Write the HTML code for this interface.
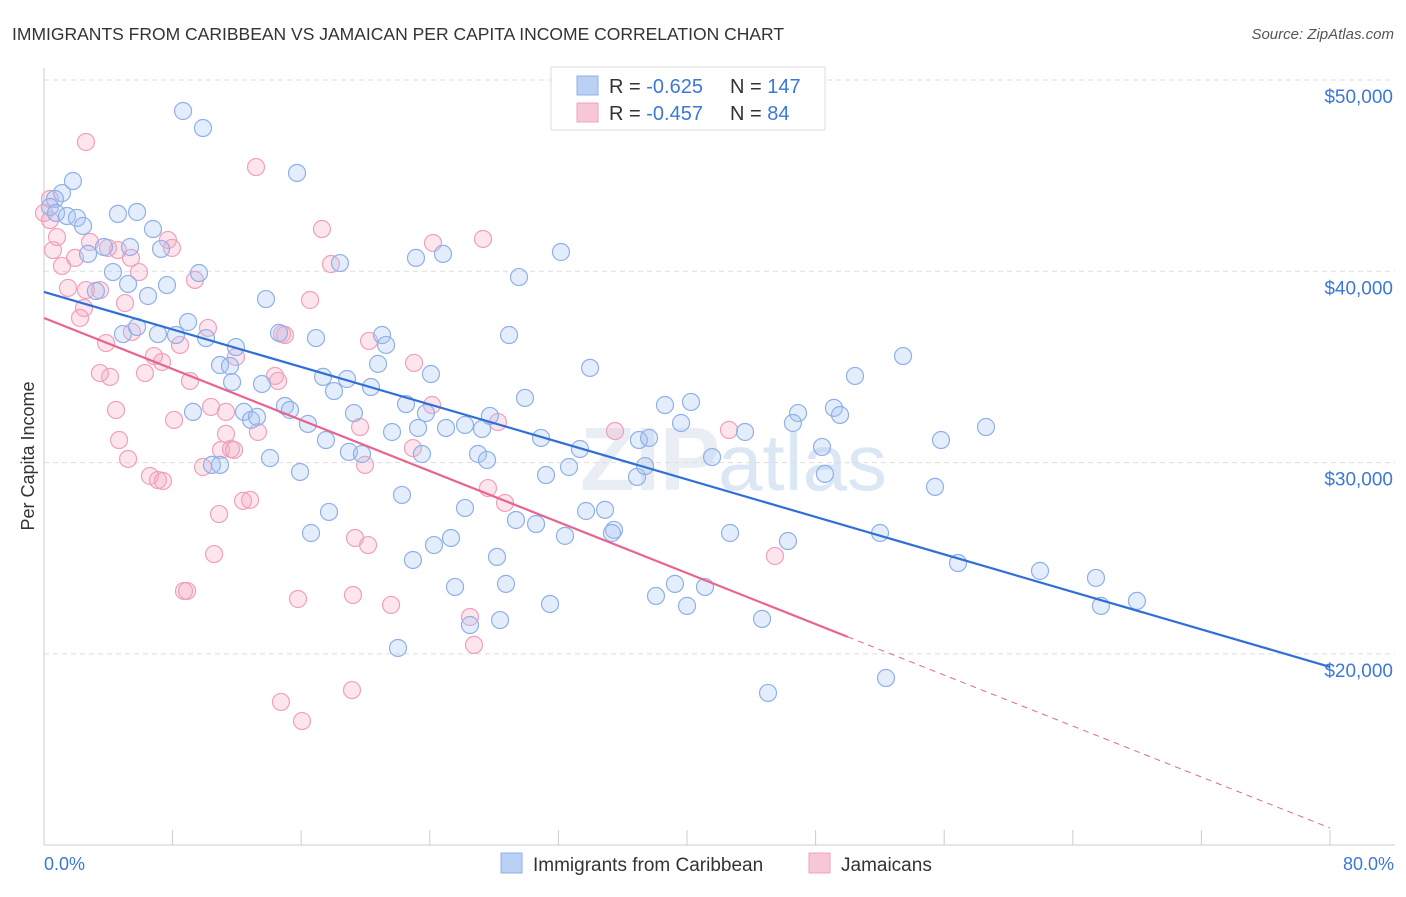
<!DOCTYPE html>
<html><head><meta charset="utf-8"><style>
body{margin:0;background:#fff;font-family:"Liberation Sans",sans-serif;}
svg text{font-family:"Liberation Sans",sans-serif;}
</style></head><body>
<svg id="chart" width="1406" height="892" viewBox="0 0 1406 892" xmlns="http://www.w3.org/2000/svg">
<text x="12" y="40" font-size="17.5" fill="#333">IMMIGRANTS FROM CARIBBEAN VS JAMAICAN PER CAPITA INCOME CORRELATION CHART</text>
<text x="1394" y="39" font-size="15" fill="#555" font-style="italic" text-anchor="end">Source: ZipAtlas.com</text>
<text x="720" y="490" font-size="90" font-weight="bold" fill="#e9eef5" text-anchor="end">ZIP</text>
<text x="718" y="490" font-size="80" fill="#dce7f5">atlas</text>
<g id="grid"></g>
<g id="axes"></g>
<g id="points"></g>
<g id="trends"></g>
<text transform="translate(34,456) rotate(-90)" font-size="18" fill="#333" text-anchor="middle">Per Capita Income</text>
<text x="44" y="870" font-size="18" fill="#3b78d8">0.0%</text>
<text x="1394" y="870" font-size="18" fill="#3b78d8" text-anchor="end">80.0%</text>
<g>
<rect x="551" y="67" width="274" height="63" fill="#fff" stroke="#ddd"/>
<rect x="577" y="76" width="21" height="19" fill="#b9d1f5" stroke="#8fb0e6"/>
<rect x="577" y="103" width="21" height="19" fill="#f8c7d6" stroke="#f0a0bd"/>
<text x="609" y="93" font-size="20" fill="#333">R = <tspan fill="#3b78d8">-0.625</tspan></text>
<text x="730" y="93" font-size="20" fill="#333">N = <tspan fill="#3b78d8">147</tspan></text>
<text x="609" y="120" font-size="20" fill="#333">R = <tspan fill="#3b78d8">-0.457</tspan></text>
<text x="730" y="120" font-size="20" fill="#333">N = <tspan fill="#3b78d8"> 84</tspan></text>
</g>
<g>
<rect x="501" y="853" width="21" height="20" fill="#b9d1f5" stroke="#8fb0e6"/>
<text x="533" y="871" font-size="19" fill="#333">Immigrants from Caribbean</text>
<rect x="809" y="853" width="21" height="20" fill="#f8c7d6" stroke="#f0a0bd"/>
<text x="841" y="871" font-size="19" fill="#333">Jamaicans</text>
</g>
</svg>
<script>
const yTicks=[20000,30000,40000,50000];
const yTickLabels=["$20,000","$30,000","$40,000","$50,000"];
const xTicks=[0,8,16,24,32,40,48,56,64,72,80];
const blueX=[8.65,9.89,1.80,1.12,.68,.37,.75,1.43,2.05,2.43,4.60,5.79,6.78,15.74,3.73,2.74,4.29,5.23,3.23,6.47,7.65,7.28,9.64,5.35,8.96,10.08,4.91,5.79,7.09,8.21,11.94,13.81,14.62,16.92,18.41,23.14,24.82,29.55,32.16,28.93,21.03,21.28,20.78,10.95,11.57,11.70,13.56,17.36,18.85,18.04,20.34,24.07,33.97,53.44,50.45,9.27,12.44,12.88,13.25,14.99,15.30,16.42,19.28,21.65,22.52,23.76,23.27,25.01,26.19,27.25,27.74,29.92,30.92,33.34,37.01,37.64,38.63,40.25,39.63,43.61,46.91,46.59,49.14,49.52,48.40,55.80,58.60,14.06,15.93,17.54,18.97,19.78,23.51,27.00,27.56,31.23,32.66,36.89,37.39,41.56,48.58,55.43,10.45,10.95,22.27,17.73,16.61,26.19,29.36,30.61,32.41,33.72,34.90,35.46,35.33,42.68,46.28,52.01,22.95,24.26,25.32,28.18,56.86,61.96,65.44,25.57,28.74,31.48,38.07,39.25,41.12,40.00,65.75,67.99,26.50,28.37,44.67,22.02,45.04,52.38,42.18];
const blueY=[48.38,47.49,44.72,44.09,43.78,43.36,43.05,42.89,42.79,42.37,43.00,43.10,42.21,45.14,41.27,40.91,39.96,39.34,38.97,38.71,39.28,41.17,39.91,41.27,37.35,36.51,36.72,37.09,36.72,36.67,36.04,38.55,36.78,36.51,40.43,40.70,40.91,39.70,41.01,36.67,36.67,36.15,35.16,35.10,35.05,34.21,34.11,34.48,34.37,33.74,33.95,34.63,34.95,35.57,34.53,32.65,32.65,32.23,32.39,32.96,32.75,32.02,32.59,31.60,33.06,32.59,31.81,31.81,31.97,31.76,32.44,33.38,31.29,30.71,31.18,31.29,33.01,33.17,32.07,31.60,32.59,32.07,32.86,32.49,30.82,31.18,31.86,30.24,29.51,31.18,30.56,30.45,30.45,30.45,30.14,29.35,29.77,29.25,29.82,30.29,29.41,28.73,29.88,29.88,28.31,27.42,26.32,27.63,27.00,26.79,26.17,27.47,27.53,26.48,26.32,26.32,25.90,26.32,24.91,25.69,26.06,25.07,24.75,24.34,23.97,23.50,23.66,22.61,23.03,23.66,23.50,22.51,22.51,22.77,21.51,21.77,21.83,20.31,17.96,18.74,48.07];
const pinkX=[2.61,13.19,.37,0,.37,.81,.56,1.12,1.93,2.86,3.98,4.60,5.41,5.91,7.71,7.96,9.39,2.61,3.48,1.49,2.49,2.24,5.04,3.86,5.47,6.84,7.34,8.46,10.20,11.94,3.48,4.11,6.28,9.08,10.39,11.32,13.31,14.37,14.56,14.81,14.99,16.55,17.29,17.85,24.20,27.31,23.02,19.66,20.22,22.95,24.14,28.24,35.52,42.61,4.48,8.09,4.67,5.23,6.59,7.09,7.40,9.89,11.01,11.63,11.82,12.38,12.82,10.89,10.58,19.35,20.16,19.97,27.62,28.68,8.71,8.90,15.80,19.22,21.59,26.50,26.75,45.47,14.74,16.05,19.16,11.32];
const pinkY=[46.76,45.45,43.78,43.05,42.68,41.79,41.11,40.28,40.70,41.53,41.22,41.11,40.70,39.96,41.64,41.22,39.55,39.02,39.02,39.13,38.08,37.56,38.34,36.25,36.83,35.57,35.26,36.15,37.04,35.52,34.68,34.48,34.68,34.27,32.91,32.65,31.60,34.53,34.27,36.72,36.67,38.50,42.21,40.38,41.48,41.69,35.21,31.86,36.36,30.76,33.01,32.12,31.65,31.71,32.75,32.23,31.18,30.19,29.30,29.09,29.04,29.77,30.66,30.71,30.66,28.00,28.05,27.31,25.22,26.06,25.69,29.88,28.67,27.89,23.29,23.29,22.87,23.08,22.56,21.93,20.47,25.12,17.49,16.49,18.11,31.50];
const blueTrend=[38.92,19.32];
const pinkTrend=[37.56,20.89,10.90];
const pinkSolidEnd=50;
const NS="http://www.w3.org/2000/svg";
const X=v=>44+v*16.075;
const Y=v=>80+(50-v)*19.13;
function mk(t,a,p){const e=document.createElementNS(NS,t);for(const k in a)e.setAttribute(k,a[k]);p.appendChild(e);return e;}
const grid=document.getElementById('grid'),axes=document.getElementById('axes');
yTicks.forEach((t,i)=>{
 const l=mk('line',{x1:44,x2:1395,y1:Y(t/1000),y2:Y(t/1000),stroke:'#ddd','stroke-dasharray':'5,4'},grid);
 
 
 const tx=mk('text',{x:1393,y:Y(t/1000)+23,'font-size':19,fill:'#3b78d8','text-anchor':'end'},grid);
 tx.textContent=yTickLabels[i];
 
 
});
const ya=mk('line',{x1:44,x2:44,y1:68,y2:845,stroke:'#ccc'},axes);


const xa=mk('line',{x1:44,x2:1395,y1:845,y2:845,stroke:'#ccc'},axes);


xTicks.forEach(t=>{
 const l=mk('line',{x1:X(t),x2:X(t),y1:830,y2:845,stroke:'#ccc'},axes);
 
 
});
const pts=document.getElementById('points');
pinkX.forEach((x,i)=>{
 const c=mk('circle',{cx:X(x),cy:Y(pinkY[i]),r:8.5,fill:'rgba(244,170,195,0.3)',stroke:'#f0a0bd','stroke-width':1.2},pts);
 
 
});
blueX.forEach((x,i)=>{
 const c=mk('circle',{cx:X(x),cy:Y(blueY[i]),r:8.5,fill:'rgba(164,194,244,0.3)',stroke:'#8fb0e6','stroke-width':1.2},pts);
 
 
});
const tr=document.getElementById('trends');
const b=mk('line',{x1:X(0),y1:Y(blueTrend[0]),x2:X(80),y2:Y(blueTrend[1]),stroke:'#2f6fd6','stroke-width':2.2},tr);


const p=mk('line',{x1:X(0),y1:Y(pinkTrend[0]),x2:X(pinkSolidEnd),y2:Y(pinkTrend[1]),stroke:'#e8648f','stroke-width':2.2},tr);


const pd=mk('line',{x1:X(pinkSolidEnd),y1:Y(pinkTrend[1]),x2:X(80),y2:Y(pinkTrend[2]),stroke:'#e8648f','stroke-width':1,'stroke-dasharray':'6,5'},tr);


</script>
</body></html>
